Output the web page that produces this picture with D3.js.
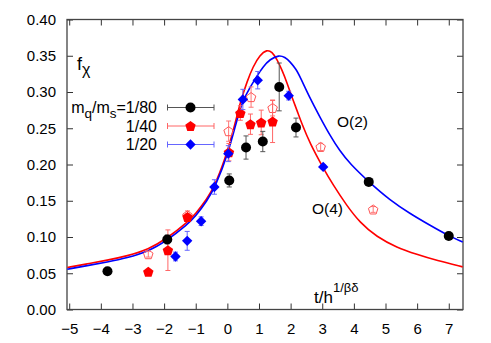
<!DOCTYPE html>
<html>
<head>
<script src="https://d3js.org/d3.v7.min.js"></script>
<style>
body { margin: 0; background: white; font-family: "Liberation Sans", Arial, Helvetica, sans-serif; }
</style>
</head>
<body>
<div id="chart"></div>
<script>
// scaling curves: [t/h^(1/bd), f_chi]
const o2Curve = [[-5.06,0.0556],[-4.43,0.0605],[-3.80,0.0655],[-3.17,0.0712],[-2.50,0.0800],[-1.90,0.0955],
  [-1.27,0.1170],[-1.00,0.1287],[-0.64,0.1501],[-0.39,0.1687],[0.03,0.2152],[0.34,0.2682],[0.50,0.2888],
  [0.72,0.3066],[0.94,0.3225],[1.13,0.3350],[1.35,0.3452],[1.63,0.3510],[1.82,0.3480],[1.98,0.3420],
  [2.17,0.3315],[2.29,0.3218],[2.61,0.2915],[2.93,0.2652],[3.24,0.2404],[3.56,0.2184],[3.87,0.2014],
  [4.47,0.1760],[5.14,0.1508],[5.77,0.1324],[6.40,0.1163],[7.00,0.1015],[7.44,0.0932]];
const o4Curve = [[-5.06,0.0579],[-4.43,0.0630],[-3.80,0.0680],[-3.17,0.0738],[-2.50,0.0828],[-1.90,0.0983],
  [-1.27,0.1200],[-1.00,0.1321],[-0.64,0.1528],[-0.39,0.1714],[0.02,0.2183],[0.34,0.2735],[0.43,0.2887],
  [0.62,0.3140],[0.81,0.3350],[1.03,0.3510],[1.25,0.3585],[1.41,0.3555],[1.57,0.3450],[1.73,0.3301],
  [1.88,0.3135],[2.04,0.2929],[2.20,0.2749],[2.36,0.2556],[2.61,0.2294],[3.02,0.1960],[3.34,0.1720],
  [3.78,0.1430],[4.19,0.1200],[4.72,0.1001],[5.36,0.0855],[5.99,0.0760],[6.62,0.0675],[7.44,0.0588]];

// lattice data: [x, y, error]
const m80 = [[-3.79,0.0528,0.002],[-1.90,0.0966,0.006],[0.06,0.178,0.009],[0.59,0.2234,0.016],
  [1.12,0.2317,0.014],[1.64,0.307,0.033],[2.17,0.251,0.013],[4.47,0.176,0.003],[7.0,0.1015,0.002]];
const m40 = [[-2.5,0.052,0.003],[-1.88,0.0818,0.028],[-1.26,0.1277,0.004],[0.05,0.217,0.012],
  [0.41,0.271,0.010],[0.73,0.2556,0.014],[1.07,0.258,0.017],[1.43,0.2593,0.029]];
const m40open = [[-2.5,0.0763,0.004],[-1.26,0.130,0.006],[0.04,0.246,0.014],[0.75,0.293,0.014],
  [1.43,0.278,0.011],[2.95,0.2243,0.005],[4.61,0.138,0.004]];
const m20 = [[-1.64,0.0731,0.006],[-1.27,0.0947,0.013],[-0.83,0.1218,0.006],[-0.41,0.169,0.010],
  [0.03,0.215,0.011],[0.49,0.2897,0.014],[0.96,0.3163,0.012],[1.94,0.295,0.006],[3.03,0.1967,0.003]];

const xTicks = d3.range(-5, 8, 1);
const yTicks = [0, 0.05, 0.10, 0.15, 0.20, 0.25, 0.30, 0.35, 0.40];
const legendLabels = ["1/80", "1/40", "1/20"];

const width = 491, height = 343;
const marginLeft = 67, marginRight = 28, marginTop = 19.5, marginBottom = 33.5;

const x = d3.scaleLinear().domain([-5.07, 7.45]).range([marginLeft, width - marginRight]);
const y = d3.scaleLinear().domain([0, 0.40]).range([height - marginBottom, marginTop]);

const svg = d3.create("svg")
    .attr("width", width)
    .attr("height", height)
    .attr("viewBox", [0, 0, width, height]);

const tickLen = 6;
const fontSize = 15;
// bottom axis, ticks inside
svg.append("g")
    .attr("transform", `translate(0,${height - marginBottom})`)
    .call(d3.axisBottom(x).tickValues(xTicks).tickSize(-tickLen).tickPadding(14).tickFormat(d3.format("d")))
    .call(g => g.select(".domain").remove())
    .call(g => g.selectAll("text").attr("font-size", fontSize).attr("font-family", "Liberation Sans, Arial").attr("fill", "#000"));
// top axis
svg.append("g")
    .attr("transform", `translate(0,${marginTop})`)
    .call(d3.axisTop(x).tickValues(xTicks).tickSize(-tickLen).tickFormat(""))
    .call(g => g.select(".domain").remove());
// left axis
svg.append("g")
    .attr("transform", `translate(${marginLeft},0)`)
    .call(d3.axisLeft(y).tickValues(yTicks).tickSize(-tickLen).tickPadding(11).tickFormat(d3.format(".2f")))
    .call(g => g.select(".domain").remove())
    .call(g => g.selectAll("text").attr("font-size", fontSize).attr("font-family", "Liberation Sans, Arial").attr("fill", "#000"));
// right axis
svg.append("g")
    .attr("transform", `translate(${width - marginRight},0)`)
    .call(d3.axisRight(y).tickValues(yTicks).tickSize(-tickLen).tickFormat(""))
    .call(g => g.select(".domain").remove());

svg.selectAll(".tick line").attr("stroke", "#333");

// frame
svg.append("rect")
    .attr("x", marginLeft).attr("y", marginTop)
    .attr("width", width - marginLeft - marginRight)
    .attr("height", height - marginTop - marginBottom)
    .attr("fill", "none").attr("stroke", "#444").attr("stroke-width", 1.3);

// curves
const line = d3.line().x(d => x(d[0])).y(d => y(d[1])).curve(d3.curveBasis);
svg.append("path").datum(o4Curve).attr("d", line)
    .attr("fill", "none").attr("stroke", "#f00").attr("stroke-width", 1.6);
svg.append("path").datum(o2Curve).attr("d", line)
    .attr("fill", "none").attr("stroke", "#00f").attr("stroke-width", 1.6);

function pentPath(r) {
  const pts = d3.range(5).map(i => {
    const a = -Math.PI / 2 + i * 2 * Math.PI / 5;
    return [r * Math.cos(a), r * Math.sin(a) + r * 0.1];
  });
  return "M" + pts.map(p => p.join(",")).join("L") + "Z";
}
const diamond = "M0,-5.2L5.2,0L0,5.2L-5.2,0Z";

function errorBars(data, color) {
  const g = svg.append("g").attr("stroke", color).attr("stroke-width", 1).attr("fill", "none");
  data.forEach(d => {
    const cx = x(d[0]), y0 = y(d[1] - d[2]), y1 = y(d[1] + d[2]);
    g.append("line").attr("x1", cx).attr("x2", cx).attr("y1", y0).attr("y2", y1);
    g.append("line").attr("x1", cx - 2.5).attr("x2", cx + 2.5).attr("y1", y0).attr("y2", y0);
    g.append("line").attr("x1", cx - 2.5).attr("x2", cx + 2.5).attr("y1", y1).attr("y2", y1);
  });
}

// open red pentagons
errorBars(m40open, "#f77");
svg.append("g").selectAll("path").data(m40open).join("path")
    .attr("transform", d => `translate(${x(d[0])},${y(d[1])})`)
    .attr("d", pentPath(5))
    .attr("fill", "none").attr("stroke", "#f55").attr("stroke-width", 1);

errorBars(m40, "#f66");
svg.append("g").selectAll("path").data(m40).join("path")
    .attr("transform", d => `translate(${x(d[0])},${y(d[1])})`)
    .attr("d", pentPath(5.5))
    .attr("fill", "#f00");

errorBars(m80, "#555");
svg.append("g").selectAll("circle").data(m80).join("circle")
    .attr("cx", d => x(d[0])).attr("cy", d => y(d[1])).attr("r", 5)
    .attr("fill", "#000");

errorBars(m20, "#66f");
svg.append("g").selectAll("path").data(m20).join("path")
    .attr("transform", d => `translate(${x(d[0])},${y(d[1])})`)
    .attr("d", diamond)
    .attr("fill", "#00f");

// legend
const legendColors = ["#555", "#f66", "#66f"];
const legendY = [107.5, 126, 144.5];
const leg = svg.append("g");
legendLabels.forEach((lab, i) => {
  const ly = legendY[i];
  leg.append("line").attr("x1", 167.5).attr("x2", 214).attr("y1", ly).attr("y2", ly).attr("stroke", legendColors[i]);
  leg.append("line").attr("x1", 167.5).attr("x2", 167.5).attr("y1", ly - 3).attr("y2", ly + 3).attr("stroke", legendColors[i]);
  leg.append("line").attr("x1", 214).attr("x2", 214).attr("y1", ly - 3).attr("y2", ly + 3).attr("stroke", legendColors[i]);
  const t = leg.append("text").attr("x", 157).attr("y", ly + 5.5).attr("text-anchor", "end")
      .attr("font-size", 16).attr("fill", "#000");
  if (i === 0) {
    t.append("tspan").text("m");
    t.append("tspan").attr("dy", 5).attr("font-size", 13.5).text("q");
    t.append("tspan").attr("dy", -5).text("/m");
    t.append("tspan").attr("dy", 5).attr("font-size", 13.5).text("s");
    t.append("tspan").attr("dy", -5).text("=" + lab);
  } else {
    t.text(lab);
  }
});
leg.append("circle").attr("cx", 190.5).attr("cy", legendY[0]).attr("r", 5).attr("fill", "#000");
leg.append("path").attr("transform", `translate(190.5,${legendY[1]})`).attr("d", pentPath(5.5)).attr("fill", "#f00");
leg.append("path").attr("transform", `translate(190.5,${legendY[2]})`).attr("d", diamond).attr("fill", "#00f");

// labels
const fl = svg.append("text").attr("x", 77).attr("y", 70).attr("font-size", 18).attr("fill", "#000");
fl.append("tspan").text("f");
fl.append("tspan").attr("dy", 5).attr("font-size", 16).text("χ");

svg.append("text").attr("x", 337).attr("y", 127).attr("font-size", 15.5).text("O(2)");
svg.append("text").attr("x", 312).attr("y", 214).attr("font-size", 15.5).text("O(4)");

const xl = svg.append("text").attr("x", 314).attr("y", 303).attr("font-size", 17);
xl.append("tspan").text("t/h");
xl.append("tspan").attr("dy", -11).attr("font-size", 13).text("1/βδ");

document.getElementById("chart").appendChild(svg.node());
</script>
</body>
</html>
